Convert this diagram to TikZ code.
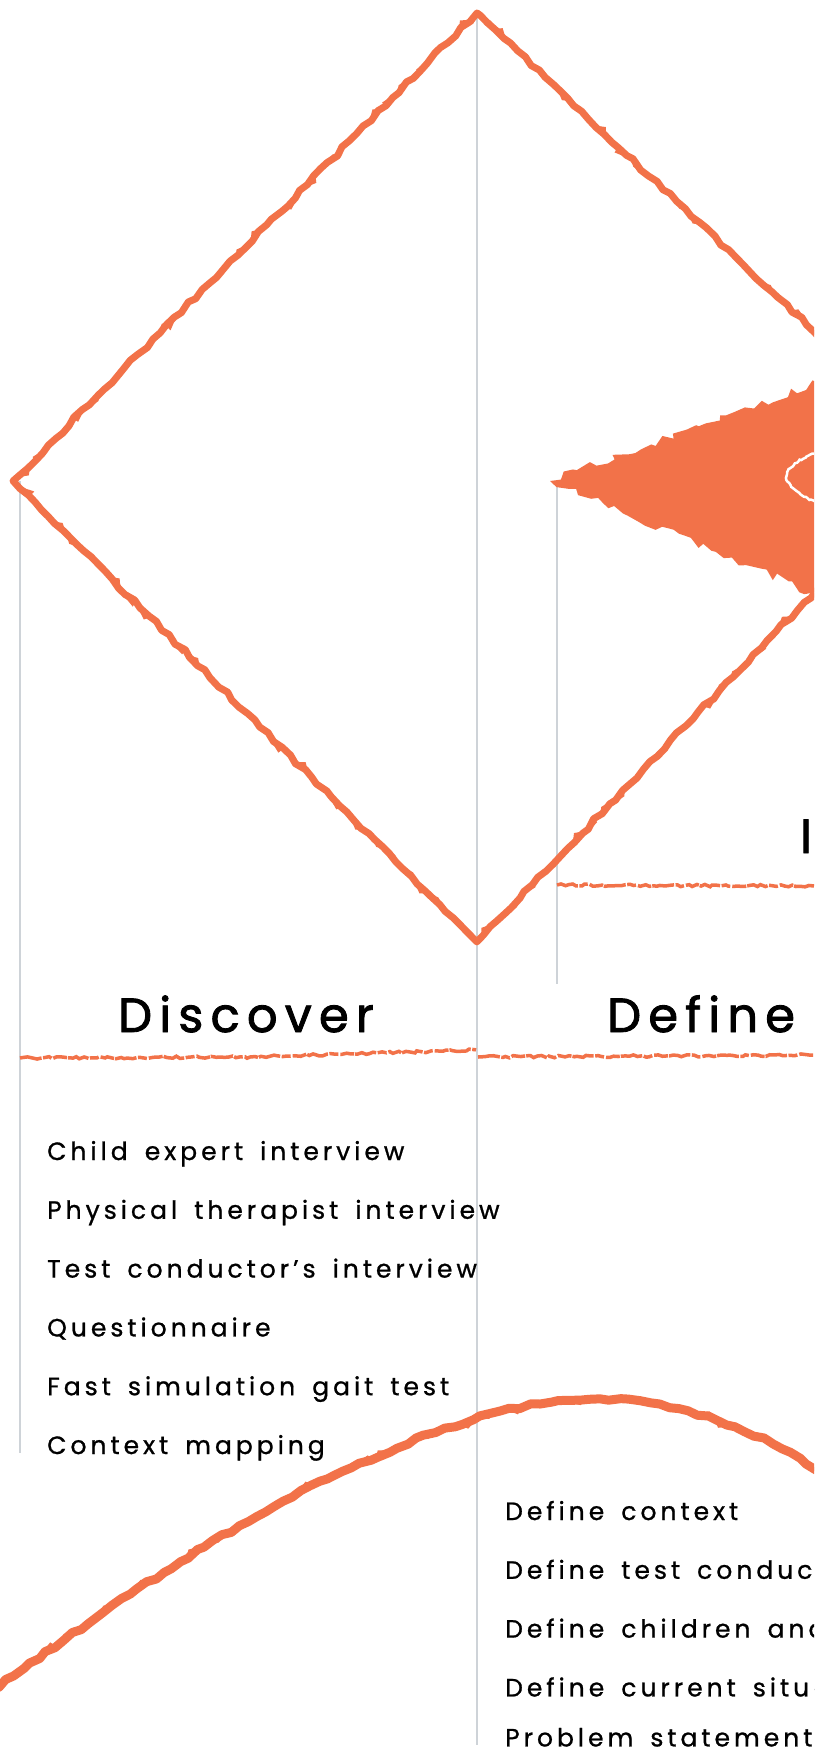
\documentclass[tikz,border=0pt]{standalone}
\usepackage{fontspec}
\setmainfont{Poppins}
\usetikzlibrary{positioning,decorations.pathmorphing}

\definecolor{brushorange}{RGB}{242,114,73}
\definecolor{rulegray}{RGB}{206,211,216}

\newfontfamily\handfont[LetterSpace=16, WordSpace=1.6, FakeBold=0.9]{Poppins}
\newfontfamily\headfont[LetterSpace=15, FakeBold=1.8]{Poppins}
\newcommand{\itemfont}{\handfont\fontsize{25}{30}\selectfont}
\newcommand{\phasefont}{\headfont\fontsize{48}{52}\selectfont}

\tikzset{
  brush/.style={draw=brushorange, line width=7pt, line cap=round, line join=round,
    decorate, decoration={random steps, segment length=10pt, amplitude=1.8pt},
    preaction={draw=brushorange, line width=3.5pt, decorate,
      decoration={random steps, segment length=7pt, amplitude=4.5pt}}},
  underline/.style={draw=brushorange, line width=3.5pt,
    decorate, decoration={random steps, segment length=4pt, amplitude=1.2pt},
    dash pattern=on 22pt off 1.5pt on 9pt off 2pt on 14pt off 1pt},
  divider/.style={draw=rulegray, line width=1.2pt},
  item/.style={anchor=base west, inner sep=0pt, font=\itemfont},
  phase/.style={anchor=base, inner sep=0pt, font=\phasefont}
}

\begin{document}
\begin{tikzpicture}[x=1pt, y=-1pt]
\pgfmathsetseed{12}
\useasboundingbox (0,0) rectangle (814,1753);
\fill[white] (0,0) rectangle (814,1753);
\clip (0,0) rectangle (814,1753);

% Column rules
\draw[divider] (477,13) -- (477,1745);
\draw[divider] (20,481) -- (20,1453);
\draw[divider] (557,481) -- (557,984);

% Heading underlines
\draw[underline] (20,1058) -- (250,1057) -- (476,1050);
\draw[underline] (478,1057) -- (814,1055);
\draw[underline] (557,885) -- (814,886);

% Diamond
\coordinate (dtop) at (477,13);
\coordinate (dleft) at (13,481);
\coordinate (dbottom) at (477,942);
\coordinate (dright) at (946,456);
\draw[brush] (dright) -- (dtop) -- (dleft) -- (dbottom) -- (dright);

% Converging wedge
\coordinate (wtip) at (550,481);
\fill[brushorange, decorate, decoration={random steps, segment length=8pt, amplitude=4.5pt}]
  (wtip) -- (830,378) -- (830,601) -- cycle;
\draw[white, line width=2.5pt, line cap=round, decorate,
  decoration={random steps, segment length=2pt, amplitude=0.7pt}]
  (818,452) .. controls (800,458) and (786,468) .. (786,478)
  .. controls (790,488) and (804,498) .. (818,503);

% Bell curve
\draw[brush, line width=9pt] (-10,1692) .. controls (90,1620) and (220,1530) .. (333,1476)
  .. controls (430,1430) and (520,1398) .. (600,1399)
  .. controls (690,1400) and (770,1435) .. (840,1485);

% Phase headings
\node[phase] (discover) at (246,1032) {Discover};
\node[phase, anchor=base west] (define) at (607,1032) {Define};
\node[phase, anchor=base west] (ideate) at (800,853) {I};

% Discover methods
\node[item] (c1) at (47,1160) {Child expert interview};
\node[below=58.8pt of c1.base west, item] (c2) {Physical therapist interview};
\node[below=58.8pt of c2.base west, item] (c3) {Test conductor’s interview};
\node[below=58.8pt of c3.base west, item] (c4) {Questionnaire};
\node[below=58.8pt of c4.base west, item] (c5) {Fast simulation gait test};
\node[below=58.8pt of c5.base west, item] (c6) {Context mapping};

% Define methods
\node[item] (d1) at (505,1520) {Define context};
\node[below=58.8pt of d1.base west, item] (d2) {Define test conductor};
\node[below=58.8pt of d2.base west, item] (d3) {Define children and};
\node[below=58.8pt of d3.base west, item] (d4) {Define current situation};
\node[below=50pt of d4.base west, item] (d5) {Problem statement};

\end{tikzpicture}
\end{document}
